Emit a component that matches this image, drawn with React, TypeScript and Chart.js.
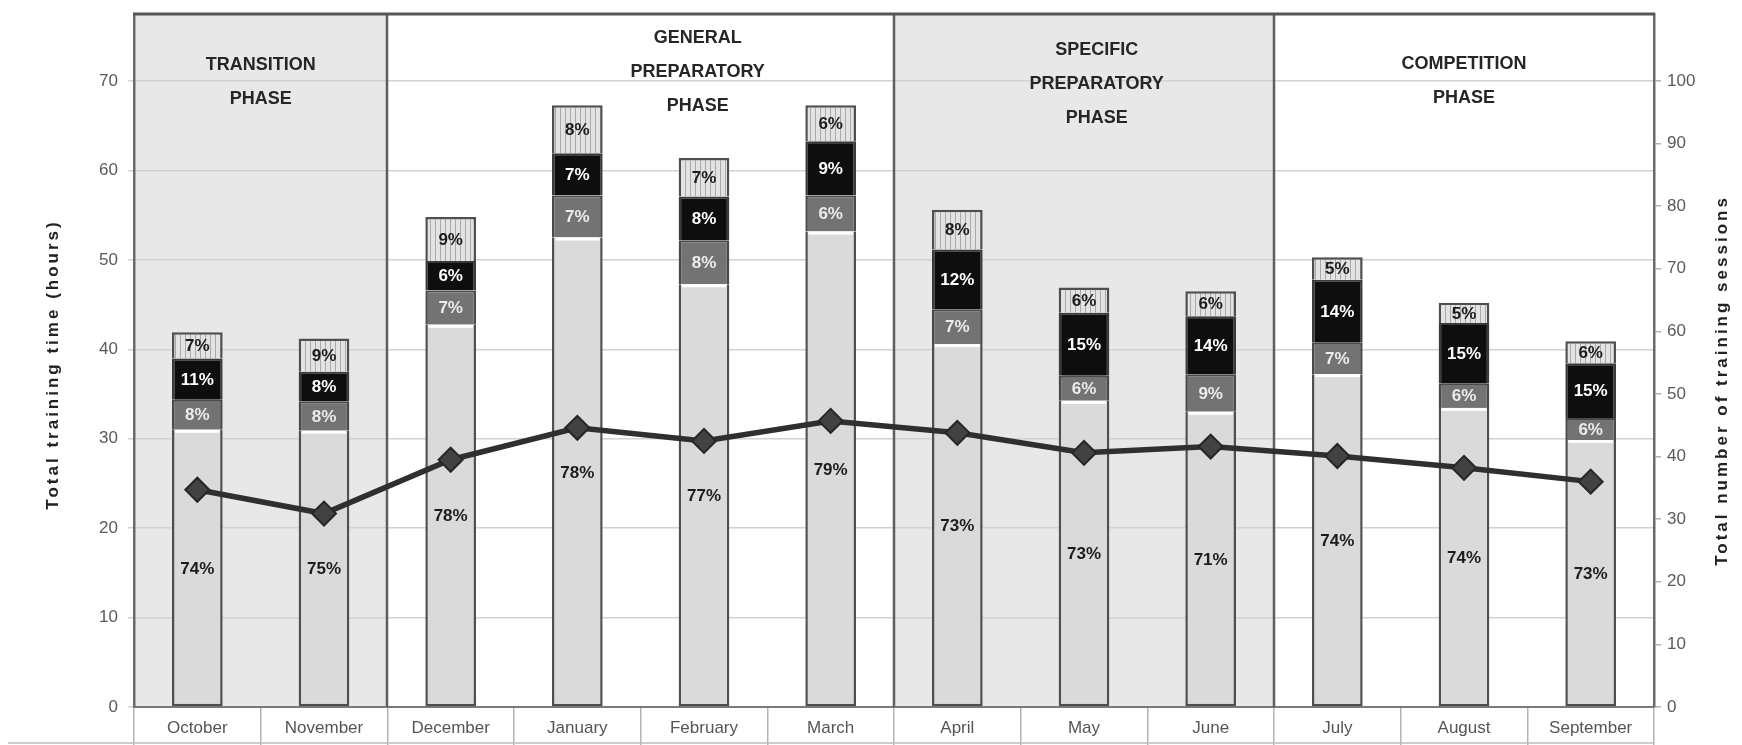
import React, { useEffect, useRef } from 'react';
import { Chart, registerables } from 'chart.js';

Chart.register(...registerables);

// Months of the training season
const months = [
  'October', 'November', 'December', 'January', 'February', 'March',
  'April', 'May', 'June', 'July', 'August', 'September',
];

// Total training time per month (hours) — full bar height
const totalHours = [41.9, 41.2, 54.8, 67.3, 61.4, 67.3, 55.6, 46.9, 46.5, 50.3, 45.2, 40.9];

// Share of each month's time spent in each of the four stacked parts (%), bottom to top
const shareBase = [74, 75, 78, 78, 77, 79, 73, 73, 71, 74, 74, 73];
const shareGrey = [8, 8, 7, 7, 8, 6, 7, 6, 9, 7, 6, 6];
const shareBlack = [11, 8, 6, 7, 8, 9, 12, 15, 14, 14, 15, 15];
const shareStriped = [7, 9, 9, 8, 7, 6, 8, 6, 6, 5, 5, 6];

// Total number of training sessions per month (right axis)
const sessions = [34.7, 30.9, 39.5, 44.6, 42.5, 45.7, 43.8, 40.6, 41.6, 40.1, 38.2, 36.0];

// Axis ticks
const hourTicks = [0, 10, 20, 30, 40, 50, 60, 70];
const sessionTicks = [0, 10, 20, 30, 40, 50, 60, 70, 80, 90, 100];

// Axis titles
const hoursTitle = 'Total training time (hours)';
const sessionsTitle = 'Total number of training sessions';

// Season phases: name lines, first and last month index, shading
const phaseNames = [
  ['TRANSITION', 'PHASE'],
  ['GENERAL', 'PREPARATORY', 'PHASE'],
  ['SPECIFIC', 'PREPARATORY', 'PHASE'],
  ['COMPETITION', 'PHASE'],
];
const phaseFirst = [0, 2, 6, 9];
const phaseLast = [1, 5, 8, 11];
const phaseShaded = [true, false, true, false];

// Layout of the phase captions (category position of the centre, offset of first line from the top)
const PHASE_CAPTION_X = [0.5, 3.95, 7.1, 10.0];
const PHASE_CAPTION_TOP = [51, 24, 36, 50];
const PHASE_LINE_GAP = 34;

const NARROW = '"Liberation Sans Narrow", "Liberation Sans", Arial, sans-serif';
const SANS = '"Liberation Sans", Arial, sans-serif';

const shares = [shareBase, shareGrey, shareBlack, shareStriped];
const shareTextColors = ['#1c1c1c', '#ececec', '#ffffff', '#1c1c1c'];

function stripePattern(): CanvasPattern | string {
  const c = document.createElement('canvas');
  c.width = 5;
  c.height = 8;
  const g = c.getContext('2d');
  if (!g) return '#dedede';
  g.fillStyle = '#e3e3e3';
  g.fillRect(0, 0, 5, 8);
  g.fillStyle = '#a9a9a9';
  g.fillRect(0, 0, 1, 8);
  return g.createPattern(c, 'repeat') || '#dedede';
}

function drawVerticalTitle(ctx: CanvasRenderingContext2D, text: string, cx: number, cy: number) {
  ctx.save();
  ctx.translate(cx, cy);
  ctx.rotate(-Math.PI / 2);
  ctx.fillStyle = '#222222';
  ctx.font = `bold 17px ${SANS}`;
  (ctx as any).letterSpacing = '3px';
  ctx.textAlign = 'center';
  ctx.textBaseline = 'middle';
  ctx.fillText(text, 0, 0);
  ctx.restore();
}

const phasePlugin = {
  id: 'seasonPhases',
  beforeDraw(chart: any) {
    const { ctx, chartArea: a, scales } = chart;
    const x = scales.x;
    const half = (x.getPixelForValue(1) - x.getPixelForValue(0)) / 2;
    ctx.save();
    ctx.fillStyle = '#ffffff';
    ctx.fillRect(0, 0, chart.width, chart.height);
    phaseFirst.forEach((first, i) => {
      if (!phaseShaded[i]) return;
      const l = x.getPixelForValue(first) - half;
      const r = x.getPixelForValue(phaseLast[i]) + half;
      ctx.fillStyle = '#e8e8e8';
      ctx.fillRect(l, a.top, r - l, a.bottom - a.top);
    });
    ctx.restore();
  },
  beforeDatasetsDraw(chart: any) {
    const { ctx, chartArea: a, scales } = chart;
    const x = scales.x;
    const half = (x.getPixelForValue(1) - x.getPixelForValue(0)) / 2;
    ctx.save();
    // phase dividers
    ctx.strokeStyle = '#5e5e5e';
    ctx.lineWidth = 2.5;
    phaseFirst.forEach((first, i) => {
      if (i === 0) return;
      const px = Math.round(x.getPixelForValue(first) - half);
      ctx.beginPath();
      ctx.moveTo(px, a.top);
      ctx.lineTo(px, a.bottom);
      ctx.stroke();
    });
    // top frame
    ctx.strokeStyle = '#555555';
    ctx.lineWidth = 3;
    ctx.beginPath();
    ctx.moveTo(a.left - 1, a.top);
    ctx.lineTo(a.right + 1, a.top);
    ctx.stroke();
    // phase captions
    ctx.fillStyle = '#262626';
    ctx.font = `bold 18px ${NARROW}`;
    ctx.textAlign = 'center';
    ctx.textBaseline = 'middle';
    phaseNames.forEach((lines, i) => {
      const cx = x.getPixelForValue(PHASE_CAPTION_X[i]);
      lines.forEach((line, j) => {
        ctx.fillText(line, cx, a.top + PHASE_CAPTION_TOP[i] + j * PHASE_LINE_GAP);
      });
    });
    ctx.restore();
  },
  afterDatasetsDraw(chart: any) {
    const { ctx } = chart;
    ctx.save();
    // light edge on top of the base part
    const baseMeta = chart.getDatasetMeta(0);
    ctx.fillStyle = '#ffffff';
    baseMeta.data.forEach((el: any) => {
      const { x, y, width } = el.getProps(['x', 'y', 'width'], true);
      ctx.fillRect(x - width / 2 + 3, y, width - 6, 3);
    });
    // percentage labels
    ctx.font = `bold 17px ${NARROW}`;
    ctx.textAlign = 'center';
    ctx.textBaseline = 'middle';
    shares.forEach((vals, di) => {
      const meta = chart.getDatasetMeta(di);
      ctx.fillStyle = shareTextColors[di];
      meta.data.forEach((el: any, i: number) => {
        const { x, y, base } = el.getProps(['x', 'y', 'base'], true);
        ctx.fillText(`${vals[i]}%`, x, (y + base) / 2 + 1);
      });
    });
    ctx.restore();
  },
  afterDraw(chart: any) {
    const { ctx, chartArea: a } = chart;
    ctx.save();
    // bottom rule under the month cells
    ctx.strokeStyle = '#bdbdbd';
    ctx.lineWidth = 1.5;
    ctx.beginPath();
    ctx.moveTo(8, chart.height - 2);
    ctx.lineTo(a.right, chart.height - 2);
    ctx.stroke();
    ctx.restore();
    // axis titles, both reading upwards
    const mid = (a.top + a.bottom) / 2;
    drawVerticalTitle(ctx, hoursTitle, 53, mid + 4);
    drawVerticalTitle(ctx, sessionsTitle, chart.width - 20, mid + 20);
  },
};

export default function App() {
  const canvasRef = useRef<HTMLCanvasElement | null>(null);

  useEffect(() => {
    document.body.style.margin = '0';
    const canvas = canvasRef.current;
    if (!canvas) return;
    const stripes = stripePattern();
    const part = (vals: number[]) => totalHours.map((t, i) => (t * vals[i]) / 100);
    const side = 2.5;

    const chart = new Chart(canvas, {
      type: 'bar',
      data: {
        labels: months,
        datasets: [
          {
            type: 'bar',
            label: 'Part 1',
            data: part(shareBase),
            backgroundColor: '#dadada',
            borderColor: '#4f4f4f',
            borderWidth: { left: side, right: side, bottom: side, top: 0 },
            borderSkipped: false,
            stack: 'time',
            yAxisID: 'y',
            order: 1,
          },
          {
            type: 'bar',
            label: 'Part 2',
            data: part(shareGrey),
            backgroundColor: '#737373',
            borderColor: '#4a4a4a',
            borderWidth: { left: side, right: side, bottom: 0, top: 2 },
            borderSkipped: false,
            stack: 'time',
            yAxisID: 'y',
            order: 1,
          },
          {
            type: 'bar',
            label: 'Part 3',
            data: part(shareBlack),
            backgroundColor: '#0e0e0e',
            borderColor: '#3a3a3a',
            borderWidth: { left: side, right: side, bottom: 0, top: 2 },
            borderSkipped: false,
            stack: 'time',
            yAxisID: 'y',
            order: 1,
          },
          {
            type: 'bar',
            label: 'Part 4',
            data: part(shareStriped),
            backgroundColor: stripes as any,
            borderColor: '#4f4f4f',
            borderWidth: { left: side, right: side, bottom: 0, top: side },
            borderSkipped: false,
            stack: 'time',
            yAxisID: 'y',
            order: 1,
          },
          {
            type: 'line',
            label: 'Sessions',
            data: sessions,
            yAxisID: 'y1',
            borderColor: '#2f2f2f',
            borderWidth: 5.5,
            pointStyle: 'rectRot',
            pointRadius: 12,
            pointBackgroundColor: '#424242',
            pointBorderColor: '#262626',
            pointBorderWidth: 2,
            tension: 0,
            order: 0,
          } as any,
        ],
      },
      options: {
        responsive: false,
        animation: false,
        devicePixelRatio: 1,
        layout: { padding: { top: 12, left: 0, right: 0, bottom: 0 } },
        plugins: {
          legend: { display: false },
          tooltip: { enabled: false },
        },
        datasets: {
          bar: { categoryPercentage: 1, barPercentage: 0.4 },
        },
        scales: {
          x: {
            stacked: true,
            offset: true,
            grid: {
              offset: true,
              drawOnChartArea: false,
              drawTicks: true,
              tickLength: 38,
              color: '#b3b3b3',
              lineWidth: 1.5,
            },
            border: { display: true, color: '#7a7a7a', width: 2 },
            ticks: {
              color: '#555555',
              font: { family: NARROW, size: 17 },
              padding: -27,
              maxRotation: 0,
              autoSkip: false,
            },
            afterFit(s: any) {
              s.height = 38;
              s.paddingLeft = 0;
              s.paddingRight = 0;
            },
          },
          y: {
            stacked: true,
            position: 'left',
            min: 0,
            max: 77.5,
            afterBuildTicks(s: any) {
              s.ticks = hourTicks.map((v) => ({ value: v }));
            },
            grid: { color: '#d2d2d2', lineWidth: 1.5, tickLength: 6 },
            border: { display: true, color: '#6a6a6a', width: 2.5 },
            ticks: {
              color: '#5a5a5a',
              font: { family: NARROW, size: 17 },
              padding: 10,
            },
            afterFit(s: any) {
              s.width = 134;
              s.paddingTop = 0;
              s.paddingBottom = 0;
            },
          },
          y1: {
            position: 'right',
            min: 0,
            max: 110.7,
            afterBuildTicks(s: any) {
              s.ticks = sessionTicks.map((v) => ({ value: v }));
            },
            grid: { drawOnChartArea: false, color: '#b0b0b0', lineWidth: 1.5, tickLength: 7 },
            border: { display: true, color: '#6a6a6a', width: 2.5 },
            ticks: {
              color: '#5a5a5a',
              font: { family: NARROW, size: 17 },
              padding: 6,
            },
            afterFit(s: any) {
              s.width = 88;
              s.paddingTop = 0;
              s.paddingBottom = 0;
            },
          },
        },
      } as any,
      plugins: [phasePlugin],
    });

    return () => chart.destroy();
  }, []);

  return (
    <div style={{ width: 1742, height: 745 }}>
      <canvas ref={canvasRef} width={1742} height={745} style={{ display: 'block' }} />
    </div>
  );
}
